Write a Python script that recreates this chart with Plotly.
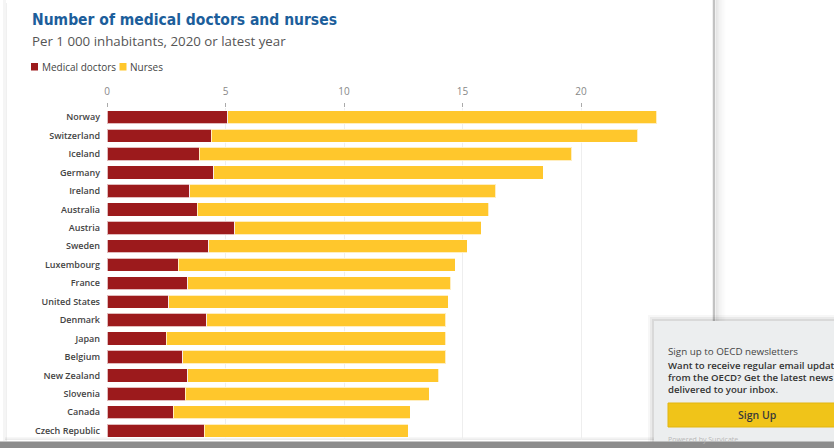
import plotly.graph_objects as go

countries = ["Norway", "Switzerland", "Iceland", "Germany", "Ireland", "Australia",
             "Austria", "Sweden", "Luxembourg", "France", "United States", "Denmark",
             "Japan", "Belgium", "New Zealand", "Slovenia", "Canada", "Czech Republic"]
doctors = [5.1, 4.4, 3.9, 4.5, 3.5, 3.8, 5.4, 4.3, 3.0, 3.4, 2.6, 4.2, 2.5, 3.2, 3.4, 3.3, 2.8, 4.1]
nurses = [18.1, 18.0, 15.7, 13.9, 12.9, 12.3, 10.4, 10.9, 11.7, 11.1, 11.8, 10.1, 11.8, 11.1, 10.6, 10.3, 10.0, 8.6]
x_ticks = [0, 5, 10, 15, 20]

DOC_COL = "#9c1a1c"
NUR_COL = "#ffc72c"
W, H = 834, 448
L, R, T, B = 107, 170, 108, 8
PW, PH = W - L - R, H - T - B


def px(x):
    return (x - L) / PW


def py(y):
    return (H - B - y) / PH


fig = go.Figure()
fig.add_trace(go.Bar(y=countries, x=doctors, orientation="h", name="Medical doctors",
                     marker=dict(color=DOC_COL, line=dict(color="rgba(255,255,255,0.7)", width=1))))
fig.add_trace(go.Bar(y=countries, x=nurses, orientation="h", name="Nurses",
                     marker=dict(color=NUR_COL, line=dict(color="rgba(255,255,255,0.7)", width=1))))

shapes = []
ann = []

# card edges / shadows
shapes.append(dict(type="rect", xref="paper", yref="paper", x0=px(3), x1=px(6), y0=py(441), y1=py(0),
                   fillcolor="rgba(0,0,0,0.04)", line=dict(width=0), layer="below"))
shapes.append(dict(type="rect", xref="paper", yref="paper", x0=px(6), x1=px(7), y0=py(441), y1=py(3),
                   fillcolor="rgba(0,0,0,0.06)", line=dict(width=0), layer="below"))
for i, op in enumerate([0.10, 0.07, 0.05, 0.035, 0.02, 0.01]):
    shapes.append(dict(type="rect", xref="paper", yref="paper", x0=px(716 + i * 1.6), x1=px(717.6 + i * 1.6),
                       y0=py(441), y1=py(0), fillcolor="rgba(0,0,0,%.3f)" % op, line=dict(width=0), layer="below"))
shapes.append(dict(type="line", xref="paper", yref="paper", x0=px(714), x1=px(714), y0=py(441), y1=py(0),
                   line=dict(color="#c2c2c2", width=2.5), layer="below"))
for i, op in enumerate([0.03, 0.05, 0.08]):
    shapes.append(dict(type="rect", xref="paper", yref="paper", x0=px(5), x1=px(720), y0=py(438 + i), y1=py(437 + i),
                       fillcolor="rgba(0,0,0,%.3f)" % op, line=dict(width=0), layer="below"))

# popup
for i, op in enumerate([0.03, 0.05, 0.07]):
    d = 3 - i
    shapes.append(dict(type="rect", xref="paper", yref="paper", x0=px(654 - d * 2), x1=px(840), y0=py(450),
                       y1=py(321 - d * 2), fillcolor="rgba(0,0,0,%.3f)" % op, line=dict(width=0), layer="above"))
shapes.append(dict(type="rect", xref="paper", yref="paper", x0=px(654), x1=px(840), y0=py(450), y1=py(321),
                   fillcolor="#eceeef", line=dict(width=0), layer="above"))
shapes.append(dict(type="rect", xref="paper", yref="paper", x0=px(668), x1=px(840), y0=py(427), y1=py(403),
                   fillcolor="#f0c419", line=dict(color="#e2b510", width=1), layer="above"))

# bottom band
shapes.append(dict(type="rect", xref="paper", yref="paper", x0=px(0), x1=px(840), y0=py(450), y1=py(441.5),
                   fillcolor="#8c8c8c", line=dict(width=0), layer="above"))

# legend swatches
shapes.append(dict(type="rect", xref="paper", yref="paper", x0=px(31), x1=px(38), y0=py(70.5), y1=py(63),
                   fillcolor=DOC_COL, line=dict(width=0), layer="above"))
shapes.append(dict(type="rect", xref="paper", yref="paper", x0=px(119.5), x1=px(126.5), y0=py(70.5), y1=py(63),
                   fillcolor=NUR_COL, line=dict(width=0), layer="above"))


def text(x, y, s, size, color, family="Open Sans", weight=None, xanchor="left"):
    f = dict(size=size, color=color, family=family)
    if weight:
        f["weight"] = weight
    ann.append(dict(xref="paper", yref="paper", x=px(x), y=py(y), text=s, showarrow=False,
                    xanchor=xanchor, yanchor="middle", font=f))


text(30, 20, "Number of medical doctors and nurses", 15.5, "#1c5e9b",
     family="DejaVu Sans Condensed, sans-serif", weight="bold")
text(30, 41, "Per 1 000 inhabitants, 2020 or latest year", 13.3, "#555555")
text(39.5, 66.5, "Medical doctors", 10, "#444444")
text(128, 66.5, "Nurses", 10, "#444444")

text(666, 351, "Sign up to OECD newsletters", 9.8, "#444444")
text(666, 365.5, "Want to receive regular email updates", 9.6, "#333333", weight=600)
text(666, 377.5, "from the OECD? Get the latest news", 9.6, "#333333", weight=600)
text(666, 389.5, "delivered to your inbox.", 9.6, "#333333", weight=600)
text(757, 414.5, "Sign Up", 10.5, "#3a3a3a", weight=600, xanchor="center")
text(666, 439, "Powered by Survicate", 7, "#b8b8b8")

fig.update_layout(
    width=W, height=H,
    margin=dict(l=L, r=R, t=T, b=B, pad=0),
    barmode="stack", bargap=0.28,
    showlegend=False,
    paper_bgcolor="white", plot_bgcolor="white",
    shapes=shapes, annotations=ann,
    xaxis=dict(side="top", range=[0, 23.5], tickvals=x_ticks, ticktext=[str(v) for v in x_ticks],
               ticks="outside", ticklen=4, tickcolor="#aaaaaa", tickwidth=1,
               tickfont=dict(family="Open Sans", size=10, color="#888888"), ticklabelstandoff=4,
               showgrid=True, gridcolor="#eeeeee", gridwidth=1, zeroline=False, showline=False,
               fixedrange=True),
    yaxis=dict(autorange="reversed", ticks="", ticklabelstandoff=6,
               tickfont=dict(family="Open Sans", size=9, color="#444444", weight=600),
               showgrid=False, zeroline=False, showline=False, fixedrange=True),
)

fig.write_html("out.html", config={"displayModeBar": False},
               post_script="document.body.style.margin='0';document.body.style.overflow='hidden';")
